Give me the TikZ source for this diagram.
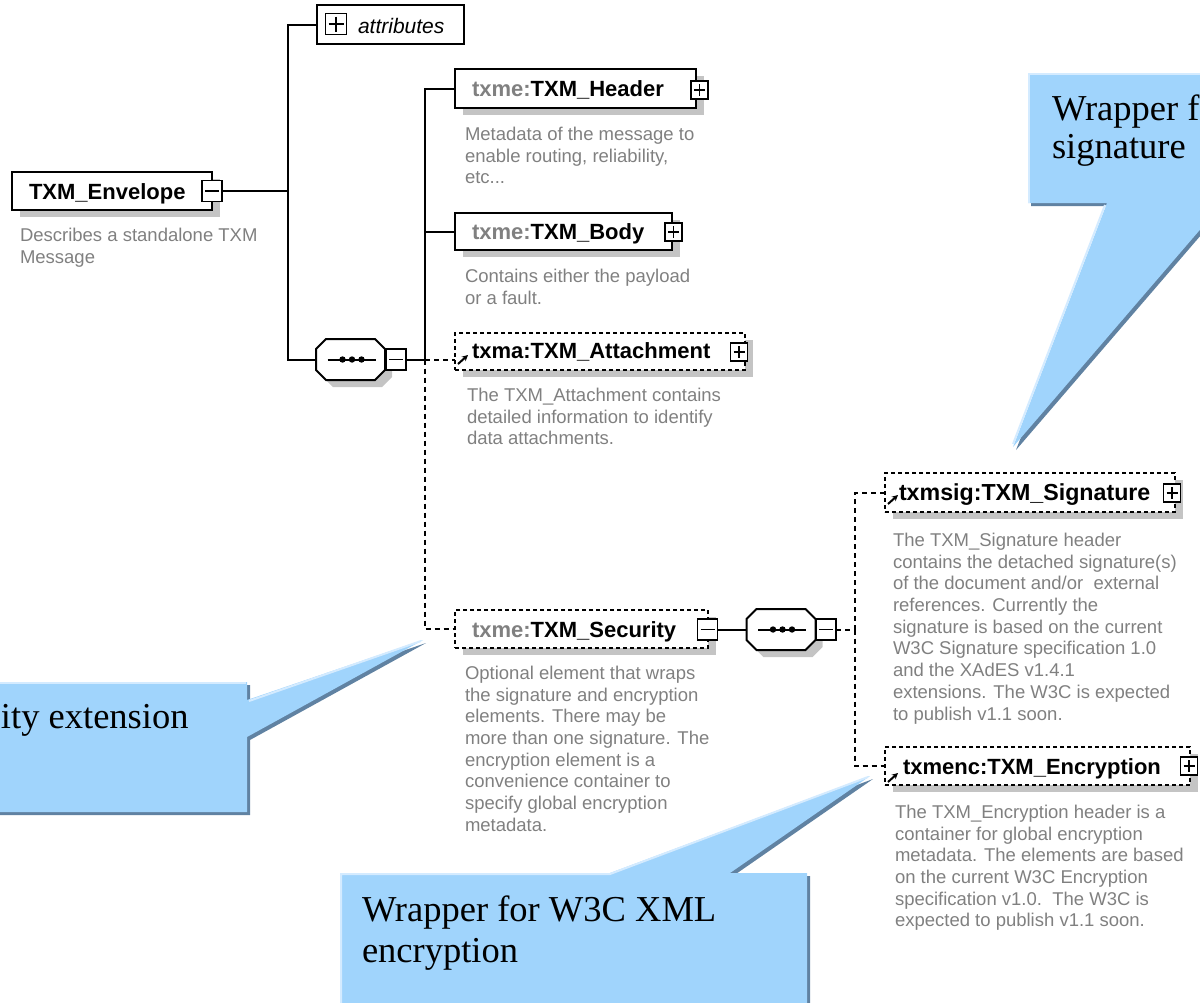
\documentclass[tikz,border=0pt]{standalone}
\usepackage{fontspec}
\setmainfont{Liberation Sans}
\newfontfamily\calloutfont{Liberation Serif}
\usetikzlibrary{arrows.meta,shadows}

\definecolor{descgray}{RGB}{128,128,128}
\definecolor{prefixgray}{RGB}{128,128,128}
\definecolor{shadowgray}{RGB}{196,196,196}
\definecolor{calloutfill}{RGB}{160,212,252}
\definecolor{calloutdark}{RGB}{96,130,162}
\definecolor{callouthigh}{RGB}{212,235,255}

% octagonal "sequence" compositor drawn round a named anchor node
\newcommand\seqglyph[1]{%
  \begin{scope}[shift={(#1.center)}]
    \begin{scope}[shift={(7,7)}]
      \fill[shadowgray] (-24.5,-20.5) -- (24.5,-20.5) -- (34.5,-10.5) -- (34.5,10.5) -- (24.5,20.5) -- (-24.5,20.5) -- (-34.5,10.5) -- (-34.5,-10.5) -- cycle;
    \end{scope}
    \filldraw[fill=white, line width=2pt] (-24.5,-20.5) -- (24.5,-20.5) -- (34.5,-10.5) -- (34.5,10.5) -- (24.5,20.5) -- (-24.5,20.5) -- (-34.5,10.5) -- (-34.5,-10.5) -- cycle;
    \draw[line width=2pt] (-23,0) -- (25,0);
    \foreach \dx in {-8,1.5,11}
      \fill (\dx,0) circle[radius=3.2pt];
  \end{scope}}

\begin{document}
\begin{tikzpicture}[x=1pt,y=-1pt,
  every node/.style={inner sep=0pt, outer sep=0pt},
  boxline/.style={line width=2pt},
  elbox/.style={draw, boxline, fill=white, rectangle,
    general shadow={fill=shadowgray, shadow xshift=8pt, shadow yshift=-7pt}},
  refbox/.style={elbox, dash pattern=on 4pt off 3pt},
  attrbox/.style={draw, boxline, fill=white, rectangle},
  seqanchor/.style={rectangle, minimum width=69pt, minimum height=41pt},
  lbl/.style={font=\fontsize{22}{26}\selectfont\bfseries, anchor=base west},
  attrlbl/.style={font=\fontsize{21}{25}\selectfont\itshape, anchor=base west},
  desc/.style={font=\fontsize{18.5}{21.7}\selectfont, text=descgray, align=left, anchor=north west},
  plusbox/.style={draw, line width=1.6pt, fill=white, minimum width=17pt, minimum height=18pt,
    path picture={
      \draw[line width=1.6pt] ([xshift=3pt]path picture bounding box.west) -- ([xshift=-3pt]path picture bounding box.east);
      \draw[line width=1.6pt] ([yshift=-3pt]path picture bounding box.north) -- ([yshift=3pt]path picture bounding box.south);}},
  bigplusbox/.style={plusbox, minimum width=21pt, minimum height=21pt},
  minusbox/.style={draw, line width=1.6pt, fill=white, minimum width=20pt, minimum height=21pt,
    path picture={
      \draw[line width=1.6pt] ([xshift=3pt]path picture bounding box.west) -- ([xshift=-3pt]path picture bounding box.east);}},
  conn/.style={line width=2pt},
  optconn/.style={line width=2pt, dash pattern=on 5pt off 4pt},
  refarrow/.style={line width=2pt, -{Stealth[length=6pt,width=6pt]}},
  callouttext/.style={font=\calloutfont\fontsize{36.5}{41}\selectfont, anchor=base west},
]
\useasboundingbox (0,0) rectangle (1200,1002);
\clip (0,0) rectangle (1200,1002);

% ---------- root element and attributes ----------
\node[attrbox, minimum width=147pt, minimum height=39pt] (attr) at (390.5,24.5) {};
\node[bigplusbox] (attrx) at (336,24) {};
\node[attrlbl] (attrt) at (358,33) {attributes};

\node[elbox, minimum width=200pt, minimum height=38pt] (env) at (112,191) {};
\node[minusbox] (envx) at (212,191) {};
\node[lbl] (envt) at (29,199) {TXM\_Envelope};
\node[desc] (envd) at (20,228) {Describes a standalone TXM\\Message};

% ---------- first sequence ----------
\node[seqanchor] (seq1) at (350.5,359.5) {};
\seqglyph{seq1}
\node[minusbox] (s1x) at (396,359.5) {};

\coordinate (t1) at (288,359.5);
\draw[conn] (attr.west) -| (t1) -- (seq1.west);
\draw[conn] (envx.east) -- (envx.east -| t1);

% ---------- children of the sequence ----------
\node[elbox, minimum width=241pt, minimum height=39pt] (hdr) at (575.5,88.5) {};
\node[plusbox] (hdrx) at (699.5,90) {};
\node[lbl] (hdrt) at (472,96) {{\color{prefixgray}txme:}TXM\_Header};
\node[desc] (hdrd) at (465,127) {Metadata of the message to\\enable routing, reliability,\\etc...};

\node[elbox, minimum width=217pt, minimum height=37pt] (body) at (563.5,231.5) {};
\node[plusbox] (bodyx) at (673.5,232) {};
\node[lbl] (bodyt) at (472,239.5) {{\color{prefixgray}txme:}TXM\_Body};
\node[desc] (bodyd) at (465,269) {Contains either the payload\\or a fault.};

\node[refbox, minimum width=290pt, minimum height=37pt] (att) at (600,351.5) {};
\node[plusbox] (attx) at (739,352) {};
\node[lbl] (attt) at (472,358) {txma:TXM\_Attachment};
\draw[refarrow] ([xshift=3pt,yshift=6pt]att.south west) -- ++(10,-9);
\node[desc] (attd) at (467,388) {The TXM\_Attachment contains\\detailed information to identify\\data attachments.};

\node[refbox, minimum width=253pt, minimum height=38pt] (sec) at (581.5,629) {};
\node[minusbox] (secx) at (707.5,629.5) {};
\node[lbl] (sect) at (472,637) {{\color{prefixgray}txme:}TXM\_Security};
\node[desc] (secd) at (465,666) {Optional element that wraps\\the signature and encryption\\elements. There may be\\more than one signature. The\\encryption element is a\\convenience container to\\specify global encryption\\metadata.};

\coordinate (c1) at (425,359.5);
\draw[conn] (s1x.east) -- (c1);
\draw[conn] (hdr.west) -| (c1);
\draw[conn] (body.west) -- (body.west -| c1);
\draw[optconn] (c1) -- (c1 -| att.west);
\draw[optconn] (c1) |- (sec.west);

% ---------- security sequence ----------
\node[seqanchor] (seq2) at (781,629.5) {};
\seqglyph{seq2}
\node[minusbox] (s2x) at (826,629.5) {};
\draw[conn] (secx.east) -- (seq2.west);

\node[refbox, minimum width=290pt, minimum height=39pt] (sig) at (1030,492.5) {};
\node[plusbox] (sigx) at (1172,493) {};
\node[lbl, font=\fontsize{23.2}{26}\selectfont\bfseries] (sigt) at (899,500) {txmsig:TXM\_Signature};
\draw[refarrow] ([xshift=3pt,yshift=8pt]sig.south west) -- ++(10,-9);
\node[desc] (sigd) at (893,533) {The TXM\_Signature header\\contains the detached signature(s)\\of the document and/or\ \ external\\references. Currently the\\signature is based on the current\\W3C Signature specification 1.0\\and the XAdES v1.4.1\\extensions. The W3C is expected\\to publish v1.1 soon.};

\node[refbox, minimum width=305pt, minimum height=38pt] (enc) at (1037.5,766) {};
\node[plusbox] (encx) at (1189,766) {};
\node[lbl] (enct) at (903,774) {txmenc:TXM\_Encryption};
\draw[refarrow] ([xshift=3pt,yshift=3pt]enc.south west) -- ++(10,-9);
\node[desc] (encd) at (895,805) {The TXM\_Encryption header is a\\container for global encryption\\metadata. The elements are based\\on the current W3C Encryption\\specification v1.0.\ \ The W3C is\\expected to publish v1.1 soon.};

\coordinate (c2) at (855,629.5);
\draw[optconn] (s2x.east) -- (c2);
\draw[optconn] (c2) |- (sig.west);
\draw[optconn] (c2) |- (enc.west);

% ---------- callouts ----------
% security extension callout (left)
\fill[calloutdark, shift={(3,3)}] (-20,682) -- (247,682) -- (247,700) -- (423,640) -- (247,737) -- (247,812) -- (-20,812) -- cycle;
\fill[calloutfill] (-20,682) -- (247,682) -- (247,700) -- (423,640) -- (247,737) -- (247,812) -- (-20,812) -- cycle;
\draw[callouthigh, line width=2pt] (-20,683) -- (246,683);
\draw[callouthigh, line width=2pt] (249,701) -- (421,641);
\node[callouttext] (calA) at (1,728) {ity extension};

% signature callout (top right)
\fill[calloutdark, shift={(3,3)}] (1028,73) -- (1240,73) -- (1240,203) -- (1223,203) -- (1013,447) -- (1107,203) -- (1028,203) -- cycle;
\fill[calloutfill] (1028,73) -- (1240,73) -- (1240,203) -- (1223,203) -- (1013,447) -- (1107,203) -- (1028,203) -- cycle;
\draw[callouthigh, line width=2pt] (1029,203) -- (1029,74) -- (1240,74);
\draw[callouthigh, line width=2pt] (1105,205) -- (1013,444);
\node[callouttext] (calB1) at (1052,120) {Wrapper f};
\node[callouttext] (calB2) at (1052,158) {signature};

% encryption callout (bottom)
\fill[calloutdark, shift={(3,3)}] (340,873) -- (610,873) -- (870,776) -- (730,873) -- (807,873) -- (807,1020) -- (340,1020) -- cycle;
\fill[calloutfill] (340,873) -- (610,873) -- (870,776) -- (730,873) -- (807,873) -- (807,1020) -- (340,1020) -- cycle;
\draw[callouthigh, line width=2pt] (341,1020) -- (341,874) -- (610,874) -- (868,777);
\node[callouttext] (calC1) at (362,921) {Wrapper for W3C XML};
\node[callouttext] (calC2) at (362,962) {encryption};
\end{tikzpicture}
\end{document}
